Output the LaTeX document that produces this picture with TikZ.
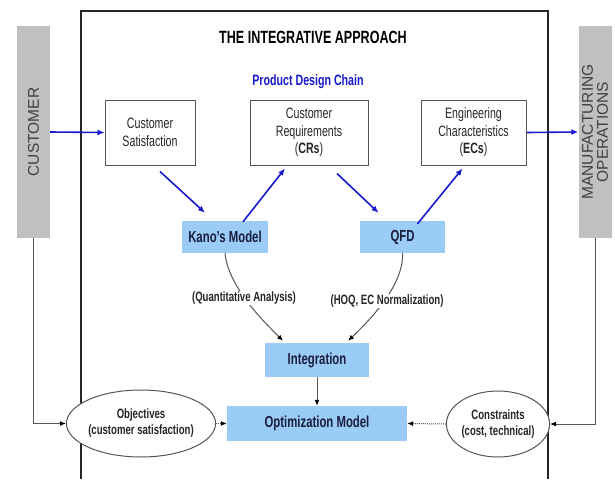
\documentclass[tikz,border=0pt]{standalone}
\usepackage{fontspec}
\setmainfont{Liberation Sans}[FakeStretch=0.71]
\newfontfamily\barfont{Liberation Sans}
\usetikzlibrary{arrows.meta,shapes.geometric}

\definecolor{chainblue}{RGB}{25,25,205}
\definecolor{boxblue}{RGB}{155,203,247}
\definecolor{bargray}{RGB}{192,192,192}
\definecolor{inkgray}{RGB}{85,85,85}
\definecolor{navytext}{RGB}{25,30,60}

\tikzset{
  whitebox/.style={draw=inkgray, line width=1pt, fill=white, minimum height=65pt, align=center, inner sep=1pt, text=black!85, font=\fontsize{15}{17.5}\selectfont},
  bluebox/.style={fill=boxblue, align=center, text=navytext, font=\bfseries\fontsize{16}{18}\selectfont},
  goal/.style={draw=inkgray, line width=1pt, fill=white, ellipse, inner sep=0pt, align=center, text=black!85, font=\bfseries\fontsize{13.5}{16}\selectfont},
  sidebar/.style={fill=bargray, rotate=90, minimum width=212pt, minimum height=33pt, align=center, text=black!75, font=\barfont\fontsize{15.5}{15}\selectfont},
  bluearrow/.style={chainblue, line width=1.6pt, -{Latex[length=7pt,width=6pt]}},
  blackarrow/.style={inkgray, line width=1pt, -{Latex[length=6pt,width=5pt,color=black]}},
  dotarrow/.style={inkgray, line width=1pt, densely dotted, -{Latex[length=6pt,width=5pt,color=black]}},
  sidelabel/.style={fill=white, inner sep=1pt, text=black!85, font=\bfseries\fontsize{13.5}{15}\selectfont}
}

\begin{document}
\begin{tikzpicture}[x=1pt,y=-1pt]

\useasboundingbox (0,0) rectangle (615,479);

\draw[black!85, line width=1.4pt] (81,479) -- (81,11) -- (548,11) -- (548,479); % open frame

\node [draw=none, font=\bfseries\fontsize{17.7}{19}\selectfont] (title) at (313,37) {THE INTEGRATIVE APPROACH};
\node [draw=none, text=chainblue, font=\bfseries\fontsize{15}{17}\selectfont] (chain) at (308,82) {Product Design Chain};

% side bars
\node [sidebar] (cust) at (33.5,132) {CUSTOMER};
\node [sidebar] (manu) at (595,132) {MANUFACTURING\\OPERATIONS};

% design chain
\node [whitebox, minimum width=90pt] (cs) at (150,132.5) {Customer\\Satisfaction};
\node [whitebox, minimum width=118pt] (cr) at (309,132.5) {Customer\\Requirements\\(\textbf{CRs})};
\node [whitebox, minimum width=105pt] (ec) at (473.5,132.5) {Engineering\\Characteristics\\(\textbf{ECs})};

\node [bluebox, minimum width=86pt, minimum height=32pt] (kano) at (225,237) {Kano's Model};
\node [bluebox, minimum width=85pt, minimum height=32pt] (qfd) at (402.5,237) {QFD};
\node [bluebox, minimum width=104pt, minimum height=34pt] (integ) at (317,360) {Integration};
\node [bluebox, minimum width=180pt, minimum height=35pt] (optim) at (317,423.5) {Optimization Model};

\node [goal, minimum width=118pt, minimum height=67pt] (obj) at (141,423.5) {Objectives\\(customer satisfaction)};
\node [goal, minimum width=98pt, minimum height=66pt] (con) at (498,424) {Constraints\\(cost, technical)};

% blue chain arrows
\draw[bluearrow] (cust.south) -- (cs.west);
\draw[bluearrow] ([xshift=10pt,yshift=-6pt]cs.south) -- ([xshift=-20pt,yshift=8pt]kano.north);
\draw[bluearrow] ([xshift=18pt,yshift=-1pt]kano.north) -- ([xshift=-24pt,yshift=-3pt]cr.south);
\draw[bluearrow] ([xshift=28pt,yshift=-8pt]cr.south) -- ([xshift=-24pt,yshift=8pt]qfd.north);
\draw[bluearrow] ([xshift=15pt,yshift=-3pt]qfd.north) -- ([xshift=-11pt,yshift=-3pt]ec.south);
\draw[bluearrow] (ec.east) -- (manu.north);

% analysis curves
\draw[blackarrow] (kano.south) .. controls (228,285) and (260,318) .. ([xshift=-34pt,yshift=2pt]integ.north);
\draw[blackarrow] (qfd.south) .. controls (404,285) and (370,320) .. ([xshift=31pt,yshift=2pt]integ.north);
\node [sidelabel] (quant) at (244,298) {(Quantitative Analysis)};
\node [sidelabel] (hoq) at (387,301) {(HOQ, EC Normalization)};

\draw[blackarrow] (integ.south) -- (optim.north);
\draw[dotarrow] (obj.east) -- (optim.west);
\draw[dotarrow] (con.west) -- (optim.east);

\draw[blackarrow] (cust.west) |- (obj.west); % customer feedback
\draw[blackarrow] (manu.west) |- (con.east); % manufacturing feedback

\end{tikzpicture}
\end{document}
